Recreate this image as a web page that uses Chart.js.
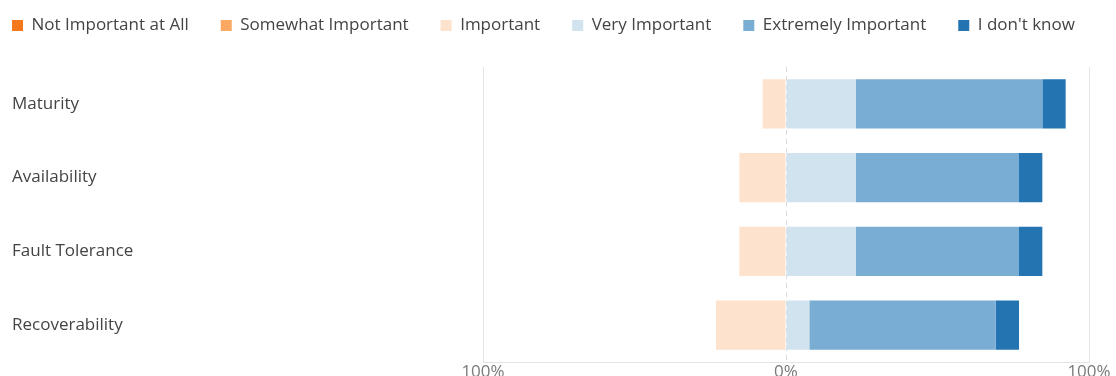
<!DOCTYPE html>
<html>
<head>
<meta charset="utf-8">
<script src="https://cdn.jsdelivr.net/npm/chart.js@4.4.1/dist/chart.umd.min.js"></script>
<style>
  html, body { margin: 0; padding: 0; background: #fff; }
  #wrap { width: 1116px; height: 376px; position: relative; }
</style>
</head>
<body>
<div id="wrap"><canvas id="likert"></canvas></div>
<script>
// categories and answers (percent of respondents)
var categorias = ["Maturity", "Availability", "Fault Tolerance", "Recoverability"];
var noImportante = [0, 0, 0, 0];
var algoImportante = [0, 0, 0, 0];
var importante = [7.7, 15.4, 15.4, 23.1];
var muyImportante = [23.1, 23.1, 23.1, 7.7];
var extremadamente = [61.5, 53.8, 53.8, 61.5];
var noSe = [7.7, 7.7, 7.7, 7.7];
var ticksX = [-100, 0, 100];

var legendOrder = ["Not Important at All", "Somewhat Important", "Important", "Very Important", "Extremely Important", "I don't know"];

function neg(arr) { return arr.map(function (v) { return -v; }); }

// dashed line at 0%
var zeroLine = {
  id: "zeroLine",
  beforeDatasetsDraw: function (chart) {
    var x = chart.scales.x.getPixelForValue(0);
    var a = chart.chartArea;
    var ctx = chart.ctx;
    ctx.save();
    ctx.strokeStyle = "#dcdcdc";
    ctx.lineWidth = 1;
    ctx.setLineDash([5, 4]);
    ctx.beginPath();
    ctx.moveTo(Math.round(x) + 0.5, a.top);
    ctx.lineTo(Math.round(x) + 0.5, a.bottom);
    ctx.stroke();
    ctx.restore();
  }
};

// legend: one row, fixed height, nudged up/left
var legendPos = {
  id: "legendPos",
  beforeInit: function (chart) {
    var fit = chart.legend.fit;
    chart.legend.fit = function () {
      this.maxWidth = chart.width + 100;
      fit.bind(chart.legend)();
      this.height = 67;
    };
  },
  afterLayout: function (chart) {
    var lg = chart.legend;
    lg.left -= 32;
    lg.right = chart.width + 100;
    lg.width = lg.right - lg.left;
    lg.top -= 15;
  }
};

new Chart(document.getElementById("likert"), {
  type: "bar",
  data: {
    labels: categorias,
    datasets: [
      { label: "Important", data: neg(importante), backgroundColor: "#fde2cd" },
      { label: "Somewhat Important", data: neg(algoImportante), backgroundColor: "#fba862" },
      { label: "Not Important at All", data: neg(noImportante), backgroundColor: "#f6781d" },
      { label: "Very Important", data: muyImportante, backgroundColor: "#d2e3f0" },
      { label: "Extremely Important", data: extremadamente, backgroundColor: "#7aadd3" },
      { label: "I don't know", data: noSe, backgroundColor: "#2474b2" }
    ]
  },
  options: {
    indexAxis: "y",
    responsive: true,
    maintainAspectRatio: false,
    animation: false,
    layout: { padding: { top: 0, left: 12, right: 27, bottom: 0 } },
    datasets: { bar: { categoryPercentage: 0.665, barPercentage: 1 } },
    plugins: {
      tooltip: { enabled: false },
      legend: {
        position: "top",
        align: "start",
        labels: {
          boxWidth: 11,
          boxHeight: 11,
          padding: 32,
          color: "#444444",
          font: { family: "Open Sans", size: 17 },
          sort: function (a, b) {
            return legendOrder.indexOf(a.text) - legendOrder.indexOf(b.text);
          }
        }
      }
    },
    scales: {
      x: {
        stacked: true,
        min: -100,
        max: 100,
        afterBuildTicks: function (scale) {
          scale.ticks = ticksX.map(function (v) { return { value: v }; });
        },
        afterFit: function (scale) { scale.height = 14; },
        grid: {
          drawTicks: false,
          color: function (ctx) { return ctx.tick && ctx.tick.value === 0 ? "rgba(0,0,0,0)" : "#e4e4e4"; }
        },
        border: { display: true, color: "#e4e4e4" },
        ticks: {
          padding: 0,
          maxRotation: 0,
          color: "#7a7a7a",
          font: { family: "Open Sans", size: 17 },
          callback: function (v) { return Math.abs(v) + "%"; }
        }
      },
      y: {
        stacked: true,
        grid: { display: false },
        border: { display: false },
        afterFit: function (scale) { scale.width = 471; },
        ticks: {
          crossAlign: "far",
          padding: 0,
          color: "#444444",
          font: { family: "Open Sans", size: 17 }
        }
      }
    }
  },
  plugins: [zeroLine, legendPos]
});
</script>
</body>
</html>
